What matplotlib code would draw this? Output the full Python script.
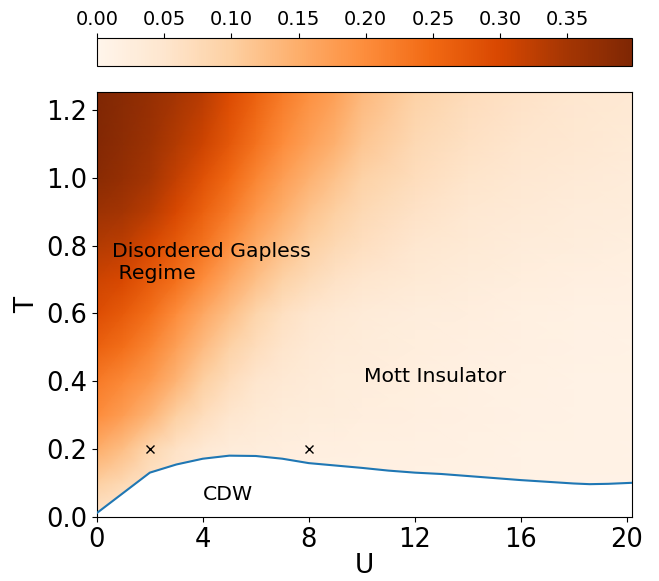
import numpy as np
import matplotlib
matplotlib.use("Agg")
import matplotlib.pyplot as plt

# grid of U and T at which the heat-map values were read
U_vals = [0, 1, 2, 3, 4, 5, 6, 7, 8, 9, 10, 12, 14, 16, 18, 20.2]
T_vals = [0.0, 0.1, 0.2, 0.3, 0.4, 0.5, 0.6, 0.7, 0.8, 0.9, 1.0, 1.1, 1.25]

# rows follow T_vals (bottom to top), columns follow U_vals
Z_T000 = [0.05, 0.04, 0.035, 0.03, 0.025, 0.02, 0.017, 0.015, 0.014, 0.013, 0.013, 0.012, 0.011, 0.01, 0.01, 0.01]
Z_T010 = [0.10, 0.08, 0.06, 0.045, 0.035, 0.025, 0.02, 0.018, 0.016, 0.015, 0.015, 0.014, 0.013, 0.011, 0.01, 0.01]
Z_T020 = [0.15, 0.125, 0.085, 0.06, 0.04, 0.03, 0.025, 0.022, 0.02, 0.019, 0.018, 0.016, 0.014, 0.012, 0.011, 0.01]
Z_T030 = [0.20, 0.175, 0.14, 0.10, 0.07, 0.05, 0.038, 0.032, 0.028, 0.025, 0.023, 0.019, 0.016, 0.013, 0.011, 0.01]
Z_T040 = [0.225, 0.205, 0.18, 0.14, 0.10, 0.07, 0.05, 0.04, 0.033, 0.029, 0.026, 0.021, 0.017, 0.014, 0.012, 0.011]
Z_T050 = [0.26, 0.24, 0.21, 0.17, 0.13, 0.095, 0.07, 0.052, 0.04, 0.034, 0.03, 0.024, 0.019, 0.016, 0.013, 0.012]
Z_T060 = [0.29, 0.27, 0.24, 0.20, 0.16, 0.125, 0.09, 0.065, 0.05, 0.04, 0.034, 0.027, 0.022, 0.018, 0.015, 0.013]
Z_T070 = [0.31, 0.30, 0.27, 0.24, 0.20, 0.16, 0.125, 0.095, 0.075, 0.06, 0.05, 0.038, 0.03, 0.024, 0.02, 0.017]
Z_T080 = [0.335, 0.325, 0.30, 0.27, 0.235, 0.195, 0.155, 0.125, 0.10, 0.08, 0.066, 0.048, 0.038, 0.03, 0.025, 0.021]
Z_T090 = [0.36, 0.35, 0.33, 0.30, 0.26, 0.225, 0.185, 0.15, 0.12, 0.10, 0.08, 0.058, 0.045, 0.036, 0.03, 0.025]
Z_T100 = [0.385, 0.37, 0.35, 0.32, 0.285, 0.25, 0.21, 0.175, 0.145, 0.12, 0.095, 0.07, 0.053, 0.043, 0.036, 0.03]
Z_T110 = [0.392, 0.378, 0.36, 0.335, 0.31, 0.275, 0.235, 0.20, 0.17, 0.145, 0.115, 0.08, 0.062, 0.05, 0.042, 0.035]
Z_T125 = [0.398, 0.385, 0.37, 0.35, 0.33, 0.295, 0.26, 0.225, 0.195, 0.17, 0.135, 0.095, 0.072, 0.058, 0.048, 0.04]

# CDW phase boundary
cdw_U = [0, 2, 3, 4, 5, 6, 7, 8, 9, 10, 11, 12, 13, 14, 15, 16, 17, 18, 18.6, 19.3, 20.2]
cdw_T = [0.012, 0.131, 0.155, 0.172, 0.181, 0.180, 0.172, 0.159, 0.152, 0.145, 0.137, 0.131, 0.127, 0.121, 0.115, 0.109, 0.104, 0.099, 0.097, 0.098, 0.101]

# marked points
mark_U = [2, 8]
mark_T = [0.2, 0.2]

x_ticks = [0, 4, 8, 12, 16, 20]
y_ticks = [0.0, 0.2, 0.4, 0.6, 0.8, 1.0, 1.2]
cb_ticks = [0.00, 0.05, 0.10, 0.15, 0.20, 0.25, 0.30, 0.35]

Z = np.array([Z_T000, Z_T010, Z_T020, Z_T030, Z_T040, Z_T050, Z_T060,
              Z_T070, Z_T080, Z_T090, Z_T100, Z_T110, Z_T125])

fig = plt.figure(figsize=(6.59, 5.81), dpi=100)
ax = fig.add_axes([0.147, 0.110, 0.812, 0.732])
cax = fig.add_axes([0.147, 0.886, 0.812, 0.048])

UU, TT = np.meshgrid(U_vals, T_vals)
mesh = ax.pcolormesh(UU, TT, Z, shading='gouraud', cmap='Oranges', vmin=0, vmax=0.398)

ax.fill_between(cdw_U, 0, cdw_T, color='white', zorder=2, linewidth=0)
ax.plot(cdw_U, cdw_T, color='#1f77b4', lw=1.5, zorder=3)
ax.plot(mark_U, mark_T, 'x', color='black', ms=6, mew=1.0, zorder=4)

ax.text(0.57, 0.75, "Disordered Gapless\n Regime", fontsize=14.7, va='center', ha='left', zorder=5)
ax.text(10.1, 0.415, "Mott Insulator", fontsize=14.7, va='center', ha='left', zorder=5)
ax.text(4.0, 0.068, "CDW", fontsize=14.7, va='center', ha='left', zorder=5)

ax.set_xlim(0, 20.2)
ax.set_ylim(0, 1.253)
ax.set_xticks(x_ticks)
ax.set_yticks(y_ticks)
ax.set_xticklabels([str(v) for v in x_ticks])
ax.set_yticklabels([f"{v:.1f}" for v in y_ticks])
ax.tick_params(labelsize=18.5)
ax.set_xlabel("U", fontsize=19, labelpad=0)
ax.set_ylabel("T", fontsize=19)

cb = fig.colorbar(mesh, cax=cax, orientation='horizontal', ticks=cb_ticks)
cb.ax.xaxis.set_ticks_position('top')
cb.ax.xaxis.set_label_position('top')
cb.ax.tick_params(labelsize=14)
cb.ax.set_xticklabels([f"{v:.2f}" for v in cb_ticks])

fig.savefig("out.png", dpi=100)
